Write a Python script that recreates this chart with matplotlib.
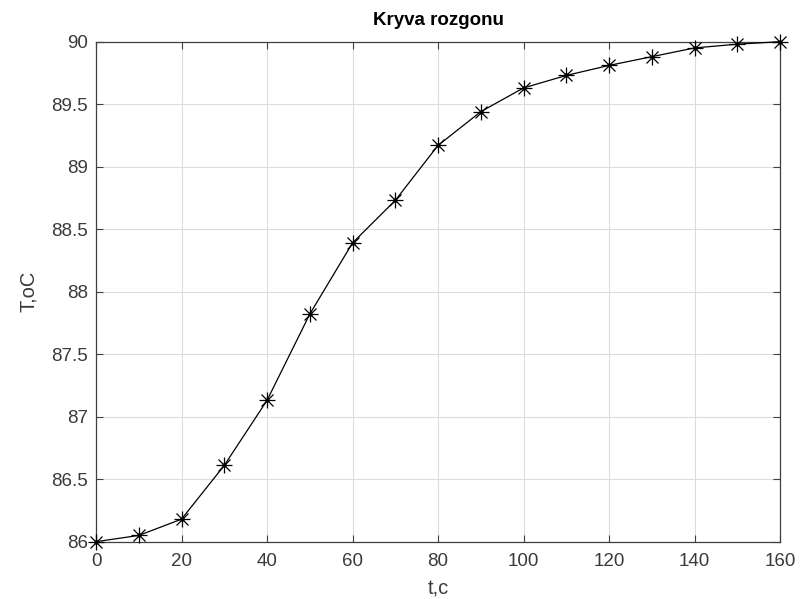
import matplotlib
matplotlib.use("Agg")
import matplotlib.pyplot as plt

t = [0, 10, 20, 30, 40, 50, 60, 70, 80, 90, 100, 110, 120, 130, 140, 150, 160]
T = [86.0, 86.05, 86.18, 86.61, 87.13, 87.82, 88.39, 88.73, 89.17, 89.44,
     89.63, 89.73, 89.81, 89.88, 89.95, 89.98, 90.0]
xticks = [0, 20, 40, 60, 80, 100, 120, 140, 160]
yticks = [86, 86.5, 87, 87.5, 88, 88.5, 89, 89.5, 90]
yticklabels = ["86", "86.5", "87", "87.5", "88", "88.5", "89", "89.5", "90"]

plt.rcParams['font.family'] = ['Liberation Sans', 'DejaVu Sans']
fig = plt.figure(figsize=(8.0, 5.99), dpi=100)
ax = fig.add_axes([0.12, 0.0957, 0.855, 0.8347])

ax.plot(t, T, '-', color='black', linewidth=0.9, clip_on=False, zorder=3)
ax.plot(t, T, linestyle='none', marker='+', markersize=11, markeredgewidth=0.9,
        color='black', clip_on=False, zorder=4)
ax.plot(t, T, linestyle='none', marker='x', markersize=8, markeredgewidth=0.9,
        color='black', clip_on=False, zorder=4)
ax.plot(t, T, linestyle='none', marker='o', markersize=2.2,
        color='black', clip_on=False, zorder=4)

ax.set_xlim(0, 160)
ax.set_ylim(86, 90)
ax.set_xticks(xticks)
ax.set_yticks(yticks)
ax.set_yticklabels(yticklabels)
ax.grid(True, color='#dcdcdc', linewidth=0.8)
ax.set_axisbelow(True)
for s in ax.spines.values():
    s.set_color('#404040')
    s.set_linewidth(0.9)
ax.tick_params(direction='in', top=True, right=True, length=5, width=0.8,
               colors='#404040', labelsize=13.5, labelcolor='#3a3a3a')
ax.tick_params(axis='x', pad=8)
ax.tick_params(axis='y', pad=6)
ax.set_xlabel('t,c', fontsize=14.5, color='#3a3a3a', labelpad=7)
ax.set_ylabel('T,oC', fontsize=14.5, color='#3a3a3a', labelpad=9)
ax.set_title('Kryva rozgonu', fontsize=13.5, fontweight='bold', color='black', pad=12)

fig.savefig('out.png', dpi=100)
